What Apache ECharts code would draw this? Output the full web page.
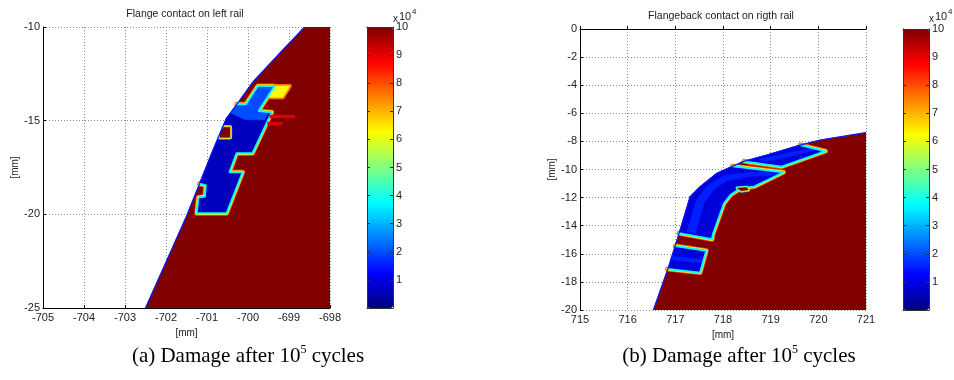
<!DOCTYPE html>
<html><head><meta charset="utf-8">
<script src="https://cdn.jsdelivr.net/npm/echarts@6/dist/echarts.min.js"></script>
<style>html,body{margin:0;padding:0;background:#fff}#c{width:954px;height:380px}</style>
</head><body><div id="c"></div>
<script>
// ---------------- data ----------------
const leftTitle = 'Flange contact on left rail';
const rightTitle = 'Flangeback contact on rigth rail';
const leftCaption = ['(a) Damage after 10', '5', ' cycles'];
const rightCaption = ['(b) Damage after 10', '5', ' cycles'];
const axisUnit = '[mm]';
const leftX = [-705, -698, 1];   // min, max, step
const leftY = [-25, -10, 5];
const rightX = [715, 721, 1];
const rightY = [-20, 0, 2];
const cbTicks = [0, 10, 1];       // colorbar axis, x 10^4
const cbExponent = '4';
const damageRange = [0, 100000];
const jetStops = ['#000080','#0000ff','#0080ff','#00ffff','#80ff80','#ffff00','#ff8000','#ff0000','#800000'];

// damage levels of the regions
const vUndamaged = 100000;
const vDeep = 6000;
const vLight = 20000;
const vBand = 9000;
const vStripe = 15500;
const vOrangeRim = 80000;
const vYellowRim = 64000;
const vCyanRim = 38000;
const vHot = 62000;
const vHotRim = 76000;
const vStreak = 90000;
const vSurface = 15000;

// left rail (flange contact)
const leftRailEdge = [[-702.5,-25],[-701.5,-20.1],[-701.18,-18.35],[-700.86,-16.6],[-700.53,-14.89],[-700.2,-13.91],[-699.88,-12.93],[-699.25,-11.45],[-698.62,-10]];
const leftRailCorners = [[-698,-10],[-698,-25]];
const leftWearEdge = [[-700.27,-14.12],[-700.05,-14.12],[-699.76,-13.15],[-699.35,-13.15],[-699.74,-14.48],[-699.42,-14.55],[-699.89,-16.74],[-700.28,-16.74],[-700.45,-17.75],[-700.13,-17.75],[-700.52,-19.94],[-701.25,-19.94],[-701.21,-19.1],[-701.05,-19.05],[-701.03,-18.45],[-701.18,-18.37]];
const leftUpper = [[-700.27,-14.12],[-700.05,-14.12],[-699.76,-13.15],[-699.35,-13.15],[-699.74,-14.48],[-699.5,-14.53],[-699.6,-14.95],[-700.05,-14.95],[-700.42,-14.6]];
const leftHot = [[-699.35,-13.15],[-698.98,-13.15],[-699.15,-13.75],[-699.52,-13.75]];
const leftStreak1 = [[-699.47,-14.7],[-698.86,-14.72],[-698.86,-14.83],[-699.47,-14.86]];
const leftStreak2 = [[-699.52,-15.08],[-699.17,-15.1],[-699.17,-15.21],[-699.52,-15.24]];
const leftPocketEdge = [[-700.6,-15.35],[-700.44,-15.35],[-700.44,-15.89],[-700.69,-15.89]];

// right rail (flangeback contact)
const rightRailEdge = [[716.54,-20],[716.86,-16.92],[717.10,-14.31],[717.31,-11.94],[717.52,-11.22],[717.87,-10.27],[718.42,-9.44],[718.92,-8.97],[719.62,-8.26],[720.04,-7.9],[721,-7.38]];
const rightRailCorners = [[721,-20]];
const rightBandA = [[717.0,-15.44],[717.65,-15.78],[717.52,-17.34],[716.84,-17.08]];
const rightBandB = [[718.2,-9.77],[719.27,-10.2],[718.65,-11.22],[718.37,-11.34],[718.16,-11.81],[718.02,-12.41],[717.79,-14.6],[717.77,-14.97],[717.08,-14.54]];
const rightBandC = [[719.62,-8.26],[720.15,-8.7],[719.23,-9.8],[718.52,-9.46],[718.45,-9.41]];
const rightStripeA = [[716.93,-16.15],[717.6,-16.42],[717.58,-16.68],[716.9,-16.42]];
const rightStripeB = [[717.24,-14.45],[717.42,-14.55],[717.6,-12.4],[717.8,-11.45],[718.08,-10.78],[718.55,-10.5],[719.05,-10.4],[719.12,-10.22],[718.55,-10.2],[718.0,-10.45],[717.64,-11.25],[717.44,-12.2]];
const rightStripeC = [[718.75,-9.28],[719.3,-8.85],[719.85,-8.5],[719.95,-8.62],[719.4,-9.1],[718.85,-9.45]];
const rightHook = [[718.3,-11.32],[718.5,-11.28],[718.53,-11.45],[718.38,-11.52]];

// ---------------- build shapes ----------------
function closeOnEdge(edge, rail) {
  const s = edge[0], e = edge[edge.length - 1];
  const back = rail.filter(p => p[1] > e[1] && p[1] < s[1]).sort((a, b) => a[1] - b[1]);
  return edge.concat(back);
}
const leftRail = leftRailEdge.concat(leftRailCorners);
const leftWear = closeOnEdge(leftWearEdge, leftRailEdge);
const rightRail = rightRailEdge.concat(rightRailCorners);
const rightBands = [rightBandA, rightBandB, rightBandC];
const rightStripes = [rightStripeA, rightStripeB, rightStripeC];

function rims(list, pts) {
  list.push({v: vOrangeRim, kind: 'line', w: 5, pts: pts});
  list.push({v: vYellowRim, kind: 'line', w: 3.4, pts: pts});
}
const leftLayers = [{v: vUndamaged, kind: 'fill', pts: leftRail}];
rims(leftLayers, leftWearEdge);
leftLayers.push(
  {v: vHotRim, kind: 'ring', w: 4, pts: leftHot},
  {v: vHot, kind: 'fill', pts: leftHot},
  {v: vDeep, kind: 'fill', pts: leftWear},
  {v: vLight, kind: 'fill', pts: leftUpper},
  {v: vCyanRim, kind: 'line', w: 2, pts: leftWearEdge},
  {v: vStreak, kind: 'fill', pts: leftStreak1},
  {v: vStreak, kind: 'fill', pts: leftStreak2},
  {v: vCyanRim, kind: 'line', w: 4.4, pts: leftPocketEdge},
  {v: vYellowRim, kind: 'line', w: 2.6, pts: leftPocketEdge},
  {v: vUndamaged, kind: 'fill', pts: leftPocketEdge},
  {v: vSurface, kind: 'line', w: 1.2, pts: leftRailEdge}
);
const rightLayers = [{v: vUndamaged, kind: 'fill', pts: rightRail}];
rightBands.forEach(b => rims(rightLayers, b));
rightBands.forEach(b => rightLayers.push({v: vBand, kind: 'fill', pts: closeOnEdge(b, rightRailEdge)}));
rightStripes.forEach(s => rightLayers.push({v: vStripe, kind: 'fill', pts: s}));
rightBands.forEach(b => rightLayers.push({v: vCyanRim, kind: 'line', w: 2, pts: b}));
rightLayers.push({v: vCyanRim, kind: 'ring', w: 3.6, pts: rightHook});
rightLayers.push({v: vYellowRim, kind: 'ring', w: 2, pts: rightHook});
rightLayers.push({v: vUndamaged, kind: 'fill', pts: rightHook});
rightLayers.push({v: vSurface, kind: 'line', w: 1.2, pts: rightRailEdge});

function makeRender(layers) {
  return function (params, api) {
    const L = layers[api.value(1)];
    const pts = L.pts.map(p => api.coord(p));
    const color = api.visual('color');
    if (L.kind === 'fill') {
      return {type: 'polygon', shape: {points: pts}, style: {fill: color, stroke: color, lineWidth: 0.6}};
    }
    return {type: L.kind === 'ring' ? 'polygon' : 'polyline', shape: {points: pts},
      style: {fill: null, stroke: color, lineWidth: L.w, lineJoin: 'round', lineCap: 'round'}};
  };
}

// ---------------- axes ----------------
const FONT = 'Liberation Sans, Arial, sans-serif';
function mainX(grid, r) {
  return {gridIndex: grid, type: 'value', min: r[0], max: r[1], interval: r[2],
    name: axisUnit, nameLocation: 'middle', nameGap: 20,
    nameTextStyle: {fontFamily: FONT, fontSize: 10, color: '#222'},
    axisLine: {show: true, lineStyle: {color: '#000', width: 1}},
    axisTick: {show: true, inside: true, length: 3, lineStyle: {color: '#000'}},
    axisLabel: {fontFamily: FONT, fontSize: 11, color: '#222', margin: 4},
    splitLine: {show: true, lineStyle: {color: '#8a8a8a', type: [1, 2], width: 1}}};
}
function mainY(grid, r) {
  return {gridIndex: grid, type: 'value', min: r[0], max: r[1], interval: r[2],
    name: axisUnit, nameLocation: 'middle', nameGap: 22,
    nameTextStyle: {fontFamily: FONT, fontSize: 10, color: '#222'},
    axisLine: {show: true, lineStyle: {color: '#000', width: 1}},
    axisTick: {show: true, inside: true, length: 3, lineStyle: {color: '#000'}},
    axisLabel: {fontFamily: FONT, fontSize: 11, color: '#222', margin: 3},
    splitLine: {show: true, lineStyle: {color: '#8a8a8a', type: [1, 2], width: 1}}};
}
function cbX(grid, pos) {
  return {gridIndex: grid, type: 'value', min: 0, max: 1, position: pos, z: 10,
    axisLine: {show: true, onZero: false, lineStyle: {color: '#333', width: 1}},
    axisTick: {show: false}, axisLabel: {show: false}, splitLine: {show: false}};
}
function cbY(grid, pos, labels) {
  return {gridIndex: grid, type: 'value', min: cbTicks[0], max: cbTicks[1], interval: cbTicks[2], position: pos, z: 10,
    axisLine: {show: true, onZero: false, lineStyle: {color: '#333', width: 1}},
    axisTick: {show: true, inside: true, length: 3, lineStyle: {color: '#333'}},
    axisLabel: {show: labels, fontFamily: FONT, fontSize: 11, color: '#222', margin: 3,
      formatter: v => (v === 0 ? '' : String(v))},
    splitLine: {show: false}};
}

const gridL = {left: 43, top: 27, width: 287, height: 281};
const gridCL = {left: 367, top: 27, width: 26, height: 281};
const gridR = {left: 580, top: 29, width: 286, height: 281};
const gridCR = {left: 903, top: 29, width: 26, height: 281};
[gridL, gridCL, gridR, gridCR].forEach(g => { g.containLabel = false; g.outerBoundsMode = 'none'; });

function vm(series, g) {
  return {type: 'continuous', min: damageRange[0], max: damageRange[1], dimension: 0, seriesIndex: series,
    inRange: {color: jetStops}, left: g.left, top: g.top, itemWidth: g.width, itemHeight: g.height,
    padding: 0, calculable: false, hoverLink: false, orient: 'vertical', show: true};
}

function txt(x, y, text, size, align) {
  return {type: 'text', x: x, y: y, silent: true,
    style: {text: text, fontFamily: FONT, fontSize: size, fill: '#222', align: align || 'center', verticalAlign: 'middle'}};
}
const SERIF = 'Liberation Serif, Times New Roman, serif';
function caption(x, parts) {
  return {type: 'text', x: x, y: 356, silent: true,
    style: {text: parts[0] + '{s|' + parts[1] + '}' + parts[2], fontFamily: SERIF,
      fontSize: 21, fill: '#000', align: 'center', verticalAlign: 'middle', lineHeight: 24,
      rich: {s: {fontSize: 12, lineHeight: 24, verticalAlign: 'top', fontFamily: SERIF, fill: '#000', padding: [0, 0, 9, 0]}}}};
}
function cbExp(x) {
  return [txt(x, 19, 'x', 10, 'left'), txt(x + 6, 17, '10', 11, 'left'), txt(x + 19, 12, cbExponent, 8, 'left')];
}

const option = {
  animation: false,
  backgroundColor: '#fff',
  grid: [gridL, gridCL, gridR, gridCR],
  xAxis: [mainX(0, leftX), cbX(1, 'bottom'), cbX(1, 'top'), mainX(2, rightX), cbX(3, 'bottom'), cbX(3, 'top')],
  yAxis: [mainY(0, leftY), cbY(1, 'right', true), cbY(1, 'left', false), mainY(2, rightY), cbY(3, 'right', true), cbY(3, 'left', false)],
  visualMap: [vm(0, gridCL), vm(1, gridCR)],
  series: [
    {type: 'custom', xAxisIndex: 0, yAxisIndex: 0, silent: true, clip: true,
      data: leftLayers.map((l, i) => [l.v, i]), renderItem: makeRender(leftLayers)},
    {type: 'custom', xAxisIndex: 3, yAxisIndex: 3, silent: true, clip: true,
      data: rightLayers.map((l, i) => [l.v, i]), renderItem: makeRender(rightLayers)}
  ],
  graphic: [
    txt(185, 14, leftTitle, 10.5),
    txt(721, 16, rightTitle, 10.5),
    caption(248, leftCaption),
    caption(739, rightCaption)
  ].concat(cbExp(393), cbExp(929))
};

const chart = echarts.init(document.getElementById('c'), null, {renderer: 'canvas'});
chart.setOption(option);
</script>
</body></html>
